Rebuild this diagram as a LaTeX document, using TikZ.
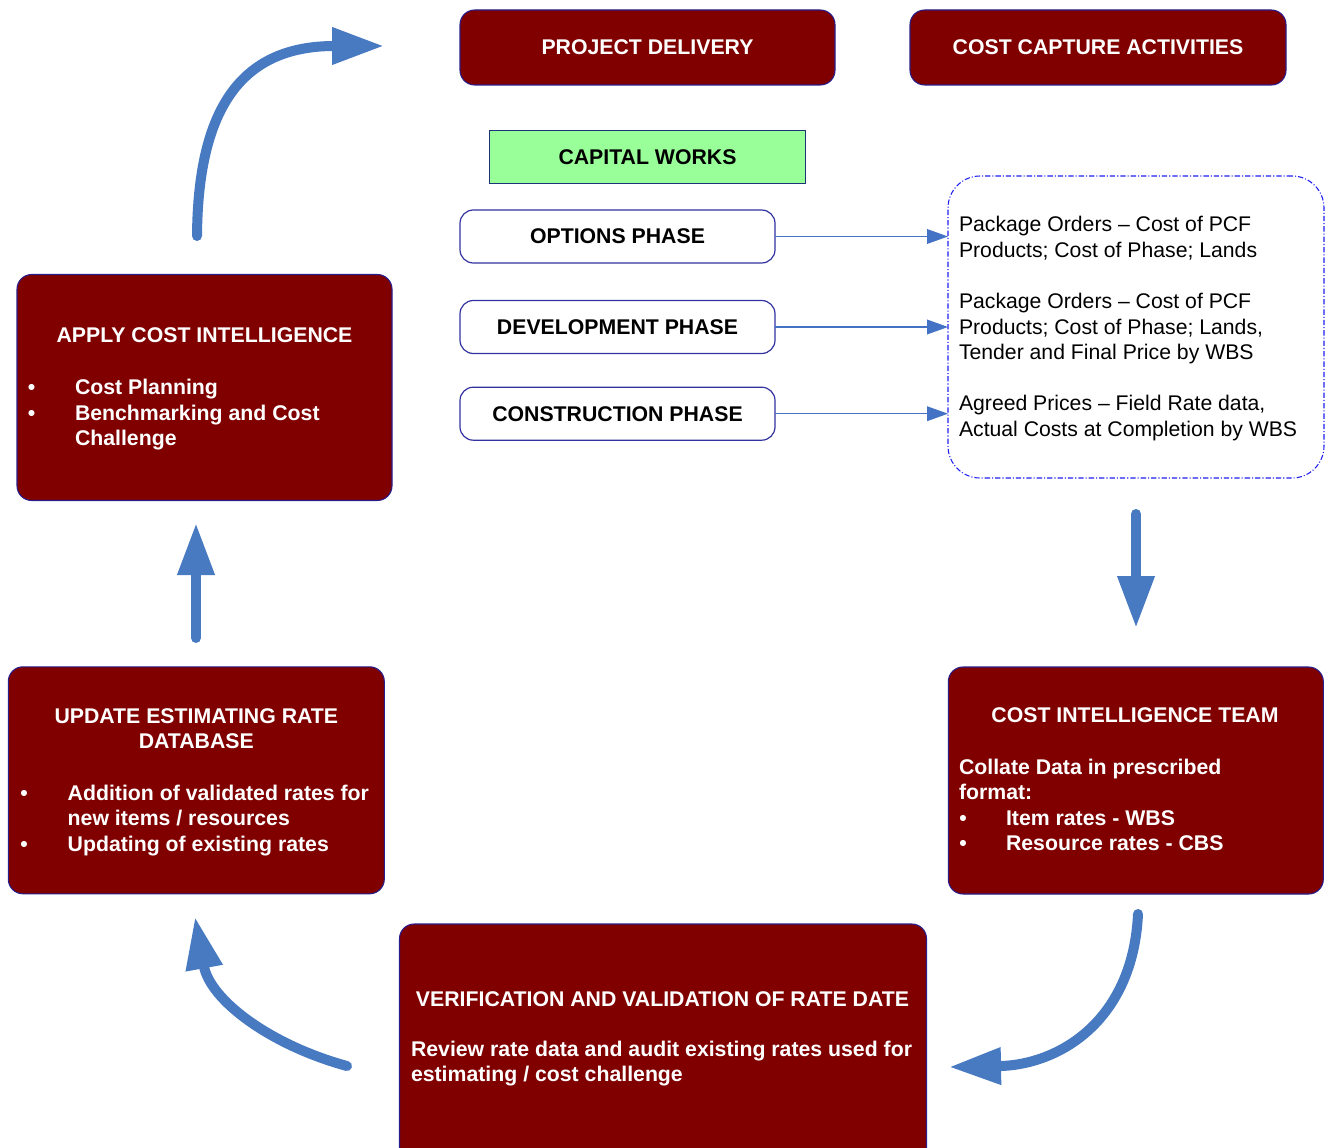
\documentclass[tikz,border=0pt]{standalone}
\usepackage{fontspec}
\setmainfont{Liberation Sans}
\usetikzlibrary{arrows.meta}

\definecolor{maroonbox}{RGB}{128,0,0}
\definecolor{boxedge}{RGB}{40,30,140}
\definecolor{phaseedge}{RGB}{50,50,160}
\definecolor{flowblue}{RGB}{72,122,193}
\definecolor{linkblue}{RGB}{68,114,196}
\definecolor{greenfill}{RGB}{153,255,153}
\definecolor{greenedge}{RGB}{30,50,120}
\definecolor{dashblue}{RGB}{30,30,240}

\begin{document}
\begin{tikzpicture}[x=0.75pt,y=-0.75pt,
  every node/.style={inner sep=0pt, outer sep=0pt},
  wh/.style 2 args={minimum width=#1*0.75pt, minimum height=#2*0.75pt},
  redbox/.style={draw=boxedge, line width=0.8pt, fill=maroonbox, rounded corners=11pt},
  phasebox/.style={draw=phaseedge, line width=0.9pt, fill=white, rounded corners=10pt},
  greenbox/.style={draw=greenedge, line width=0.8pt, fill=greenfill},
  capturebox/.style={draw=dashblue, line width=0.8pt, rounded corners=24pt,
    dash pattern=on 4pt off 1.5pt on 0.8pt off 1.5pt},
  wtext/.style={text=white, font=\fontsize{15.95}{19}\selectfont\bfseries},
  btext/.style={text=black, font=\fontsize{15.95}{19}\selectfont\bfseries},
  rtext/.style={text=black, font=\fontsize{15.9}{19}\selectfont},
  bigflow/.style={draw=flowblue, line width=7.5pt, line cap=round,
    -{Triangle[length=39pt,width=26.25pt]}, fill=none},
  link/.style={draw=linkblue, line width=1pt,
    -{Triangle[length=15.75pt,width=11pt]}},
]
\useasboundingbox (0,0) rectangle (1330,1148);
\clip (0,0) rectangle (1330,1148);

% top header boxes
\node[redbox, wh={375}{75}, wtext] (pd) at (647.5,47.5) {PROJECT DELIVERY};
\node[redbox, wh={376}{75}, wtext] (cca) at (1098,47.5) {COST CAPTURE ACTIVITIES};

% capital works phases
\node[greenbox, wh={316}{53}, btext] (cw) at (647.5,157) {CAPITAL WORKS};
\node[phasebox, wh={315}{53}, btext] (opt) at (617.5,236.5) {OPTIONS PHASE};
\node[phasebox, wh={315}{53}, btext] (dev) at (617.5,327) {DEVELOPMENT PHASE};
\node[phasebox, wh={315}{53}, btext] (con) at (617.5,413.7) {CONSTRUCTION PHASE};

% cost capture outputs
\node[capturebox, wh={376}{302}] (cap) at (1136,327) {};
\node[rtext, anchor=base west] (c1a) at (959,231.7) {Package Orders – Cost of PCF};
\node[rtext, anchor=base west] (c1b) at (959,257.3) {Products; Cost of Phase; Lands};
\node[rtext, anchor=base west] (c2a) at (959,308.3) {Package Orders – Cost of PCF};
\node[rtext, anchor=base west] (c2b) at (959,334) {Products; Cost of Phase; Lands,};
\node[rtext, anchor=base west] (c2c) at (959,359.3) {Tender and Final Price by WBS};
\node[rtext, anchor=base west] (c3a) at (959,410) {Agreed Prices – Field Rate data,};
\node[rtext, anchor=base west] (c3b) at (959,436) {Actual Costs at Completion by WBS};

\draw[link] (opt.east) -- (opt.east -| cap.west);
\draw[link] (dev.east) -- (dev.east -| cap.west);
\draw[link] (con.east) -- (con.east -| cap.west);

% apply cost intelligence
\node[redbox, wh={375}{226}] (apply) at (204.5,387.5) {};
\node[wtext, anchor=base] (applyT) at (204.5,342.7) {APPLY COST INTELLIGENCE};
\node[wtext, anchor=base] (applyB1) at (31.7,394.3) {•};
\node[wtext, anchor=base west] (applyL1) at (75,394.3) {Cost Planning};
\node[wtext, anchor=base] (applyB2) at (31.7,420.3) {•};
\node[wtext, anchor=base west] (applyL2) at (75,420.3) {Benchmarking and Cost};
\node[wtext, anchor=base west] (applyL3) at (75,445.7) {Challenge};

% update estimating rate database
\node[redbox, wh={376}{227}] (upd) at (196.3,780.3) {};
\node[wtext, anchor=base] (updT1) at (196.3,723.3) {UPDATE ESTIMATING RATE};
\node[wtext, anchor=base] (updT2) at (196.3,748.3) {DATABASE};
\node[wtext, anchor=base] (updB1) at (24,800.7) {•};
\node[wtext, anchor=base west] (updL1) at (67.7,800.7) {Addition of validated rates for};
\node[wtext, anchor=base west] (updL2) at (67.7,825.3) {new items / resources};
\node[wtext, anchor=base] (updB2) at (24,851) {•};
\node[wtext, anchor=base west] (updL3) at (67.7,851) {Updating of existing rates};

% cost intelligence team
\node[redbox, wh={375}{227}] (cit) at (1135.8,780.5) {};
\node[wtext, anchor=base] (citT) at (1135,722.7) {COST INTELLIGENCE TEAM};
\node[wtext, anchor=base west] (citL1) at (959,774) {Collate Data in prescribed};
\node[wtext, anchor=base west] (citL2) at (959,799) {format:};
\node[wtext, anchor=base] (citB1) at (963,825) {•};
\node[wtext, anchor=base west] (citL3) at (1006,825) {Item rates - WBS};
\node[wtext, anchor=base] (citB2) at (963,850.7) {•};
\node[wtext, anchor=base west] (citL4) at (1006,850.7) {Resource rates - CBS};

% verification and validation
\node[redbox, wh={527}{256}] (ver) at (663,1052) {};
\node[wtext, anchor=base] (verT) at (662.5,1006) {VERIFICATION AND VALIDATION OF RATE DATE};
\node[wtext, anchor=base west] (verL1) at (411,1056.7) {Review rate data and audit existing rates used for};
\node[wtext, anchor=base west] (verL2) at (411,1081.7) {estimating / cost challenge};

% cycle arrows
\coordinate (loopA0) at (197,236);
\coordinate (loopA1) at (384,46);
\coordinate (loopB0) at (1136,514);
\coordinate (loopB1) at (1136,628);
\coordinate (loopC0) at (1138,914);
\coordinate (loopC1) at (949,1067);
\coordinate (loopD0) at (347,1066);
\coordinate (loopD1) at (195,917);
\coordinate (loopE0) at (196,638);
\coordinate (loopE1) at (196,523);

\draw[bigflow] (loopA0) .. controls (198,110) and (240,46) .. (loopA1);
\draw[bigflow] (loopB0) -- (loopB1);
\draw[bigflow] (loopC0) .. controls (1133,1020) and (1060,1065) .. (loopC1);
\draw[bigflow] (loopD0) .. controls (270,1045) and (210,1000) .. (loopD1);
\draw[bigflow] (loopE0) -- (loopE1);
\end{tikzpicture}
\end{document}
